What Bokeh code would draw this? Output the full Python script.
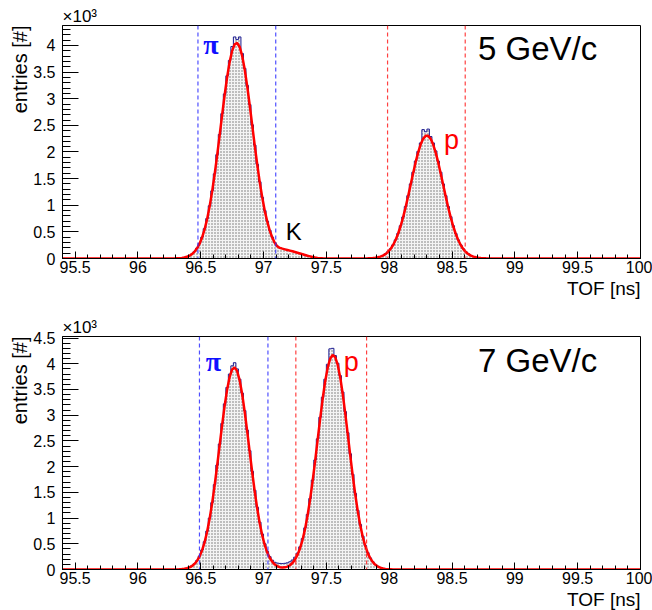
import numpy as np
from bokeh.plotting import figure
from bokeh.layouts import column
from bokeh.models import Range1d, FixedTicker, CustomJSTickFormatter, Span, Label, Title
from bokeh.embed import file_html
from bokeh.resources import INLINE

# ---------------- data ----------------
TOF_MIN, TOF_MAX, BIN_W = 95.4, 100.0, 0.02

x_major = [95.5, 96.0, 96.5, 97.0, 97.5, 98.0, 98.5, 99.0, 99.5, 100.0]
y_major = [0.0, 0.5, 1.0, 1.5, 2.0, 2.5, 3.0, 3.5, 4.0, 4.5]

# 5 GeV/c panel : pion (+K tail) segment, first bin at 96.30
top_pi_start = 96.30
top_pi_hist = [5, 8, 12, 21, 35, 55, 85, 130, 195, 285,
               400, 560, 750, 990, 1270, 1590, 1950, 2330, 2720, 3090,
               3430, 3720, 3980, 4160, 4110, 4160, 3850, 3570, 3250, 2890,
               2510, 2130, 1770, 1440, 1150, 900, 700, 530, 400, 300,
               235, 205, 188, 175, 162, 150, 137, 124, 110, 96,
               82, 68, 54, 41, 29, 19, 12, 7, 4, 2,
               1]
top_pi_fit = [4, 7, 11, 19, 32, 52, 81, 125, 187, 273,
              389, 540, 730, 966, 1246, 1567, 1923, 2302, 2688, 3061,
              3403, 3687, 3899, 4022, 4047, 3972, 3804, 3552, 3237, 2878,
              2500, 2120, 1760, 1430, 1140, 890, 690, 520, 390, 290,
              225, 200, 185, 172, 160, 148, 135, 122, 108, 94,
              80, 66, 52, 40, 28, 18, 11, 6, 3, 1,
              0]
# 5 GeV/c panel : proton segment, first bin at 97.80
top_p_start = 97.80
top_p_hist = [2, 3, 5, 9, 15, 24, 38, 58, 88, 128,
              182, 255, 350, 470, 615, 780, 975, 1180, 1400, 1620,
              1830, 2010, 2170, 2420, 2380, 2430, 2290, 2170, 2020, 1830,
              1620, 1400, 1180, 975, 785, 615, 470, 350, 255, 182,
              128, 88, 58, 38, 24, 15, 9, 6, 4, 2,
              1]
top_p_fit = [2, 3, 5, 8, 14, 22, 35, 55, 83, 123,
             177, 249, 343, 460, 601, 767, 956, 1162, 1379, 1597,
             1804, 1989, 2140, 2247, 2303, 2303, 2247, 2140, 1989, 1804,
             1597, 1379, 1162, 956, 767, 601, 460, 343, 249, 177,
             123, 83, 55, 35, 22, 14, 8, 5, 3, 2,
             1]
# 7 GeV/c panel : pion + proton segment, first bin at 96.30
bot_start = 96.30
bot_hist = [3, 5, 9, 16, 27, 44, 72, 112, 174, 260,
            380, 540, 745, 1000, 1300, 1650, 2030, 2440, 2840, 3220,
            3540, 3800, 3960, 4020, 3900, 3700, 3430, 3090, 2710, 2310,
            1910, 1540, 1210, 920, 690, 500, 355, 250, 180, 140,
            125, 118, 115, 120, 130, 150, 185, 240, 320, 440,
            600, 810, 1070, 1380, 1740, 2130, 2540, 2960, 3350, 3700,
            3990, 4290, 4300, 4160, 4010, 3770, 3450, 3070, 2660, 2250,
            1850, 1480, 1150, 875, 648, 467, 328, 225, 150, 98,
            62, 38, 23, 13, 8, 4]
bot_fit = [2, 4, 8, 14, 24, 41, 67, 106, 166, 250,
           367, 523, 725, 975, 1276, 1622, 2003, 2404, 2803, 3176,
           3497, 3741, 3889, 3930, 3856, 3678, 3408, 3069, 2685, 2283,
           1886, 1514, 1181, 895, 659, 472, 328, 223, 147, 96,
           63, 45, 38, 42, 56, 83, 127, 192, 283, 409,
           573, 785, 1045, 1354, 1708, 2097, 2509, 2920, 3309, 3650,
           3919, 4097, 4170, 4130, 3983, 3739, 3417, 3040, 2633, 2220,
           1822, 1456, 1132, 857, 632, 454, 317, 216, 143, 92,
           58, 35, 21, 12, 7, 4]

# selection windows (ns)
top_pi_cuts = [96.478, 97.097]
top_p_cuts = [97.987, 98.605]
bot_pi_cuts = [96.49, 97.035]
bot_p_cuts = [97.257, 97.82]

top_ymax = 4.375   # in units of 10^3
bot_ymax = 4.53

# ---------------- helpers ----------------
n_bins = int(round((TOF_MAX - TOF_MIN) / BIN_W))
edges = TOF_MIN + BIN_W * np.arange(n_bins + 1)
centers = edges[:-1] + BIN_W / 2


def place(segments):
    arr = np.zeros(n_bins)
    for start, vals in segments:
        i0 = int(round((start - TOF_MIN) / BIN_W))
        arr[i0:i0 + len(vals)] = vals
    return arr


FONT = "Liberation Sans"
fmt = CustomJSTickFormatter(code="return String(Math.round(tick*1000)/1000);")


def make_panel(hist, fit, ymax, pi_cuts, p_cuts, height, btop, bbottom, mom_text,
               pi_pos, p_pos, mom_pos, k_pos=None):
    p = figure(width=652, height=height,
               x_range=Range1d(TOF_MIN, TOF_MAX), y_range=Range1d(0, ymax),
               output_backend="svg", toolbar_location=None,
               min_border_left=62, min_border_right=12,
               min_border_top=btop, min_border_bottom=bbottom)
    p.grid.visible = False
    p.outline_line_color = "black"
    p.outline_line_width = 1
    p.outline_line_alpha = 1
    p.background_fill_color = "white"
    p.border_fill_color = "white"

    h = hist / 1000.0
    # histogram body as a single stepped polygon with a dotted fill
    sx = np.concatenate([np.repeat(edges, 2)[1:-1], [TOF_MAX, TOF_MIN]])
    sy = np.concatenate([np.repeat(h, 2), [0.0, 0.0]])
    p.patch(x=sx, y=sy, fill_color="#f4f4f4", line_color=None,
            hatch_pattern="dot", hatch_scale=3, hatch_color="#000000",
            hatch_weight=1, hatch_alpha=0.55)
    p.step(x=edges, y=np.append(h, h[-1]), mode="after",
           line_color="#1a1a90", line_width=1)

    fx = np.concatenate([[TOF_MIN], centers, [TOF_MAX]])
    fy = np.concatenate([[0.0], fit / 1000.0, [0.0]])
    p.line(x=fx, y=fy, line_color="#ff0000", line_width=2.5)

    for c in pi_cuts:
        p.add_layout(Span(location=c, dimension="height", line_color="#3030ff",
                          line_alpha=0.85, line_dash="4 3", line_width=1.2))
    for c in p_cuts:
        p.add_layout(Span(location=c, dimension="height", line_color="#ff2020",
                          line_alpha=0.85, line_dash="4 3", line_width=1.2))

    # axes
    xa = p.xaxis[0]
    xa.ticker = FixedTicker(ticks=x_major,
                            minor_ticks=list(np.round(np.arange(95.4, 100.0001, 0.1), 2)))
    xa.formatter = fmt
    xa.major_tick_in = 7
    xa.major_tick_out = 0
    xa.minor_tick_in = 4
    xa.minor_tick_out = 0
    xa.major_label_standoff = 2
    ya = p.yaxis[0]
    ya.ticker = FixedTicker(ticks=y_major,
                            minor_ticks=list(np.round(np.arange(0, 4.5001, 0.1), 2)))
    ya.formatter = fmt
    ya.major_tick_in = 16
    ya.major_tick_out = 0
    ya.minor_tick_in = 8
    ya.minor_tick_out = 0
    ya.major_label_standoff = 7
    for ax in (xa, ya):
        ax.axis_line_color = "black"
        ax.major_tick_line_color = "black"
        ax.minor_tick_line_color = "black"
        ax.major_label_text_font = FONT
        ax.major_label_text_font_size = "16px"
        ax.major_label_text_color = "black"

    # axis titles and exponent as side titles
    p.add_layout(Title(text="×10³", align="left", text_font=FONT, text_font_size="17px",
                       text_font_style="normal", text_color="black", standoff=0, offset=0),
                 "above")
    p.add_layout(Title(text="TOF [ns]", align="right", text_font=FONT, text_font_size="19px",
                       text_font_style="normal", text_color="black", standoff=0, offset=0),
                 "below")
    p.add_layout(Title(text="entries [#]", align="right", text_font=FONT, text_font_size="20px",
                       text_font_style="normal", text_color="black", standoff=0, offset=0),
                 "left")

    # annotations inside the frame
    p.add_layout(Label(x=pi_pos[0], y=pi_pos[1], text="π", text_baseline="alphabetic",
                       text_font="Liberation Serif", text_font_style="bold",
                       text_font_size="28px", text_color="#1010ff"))
    p.add_layout(Label(x=p_pos[0], y=p_pos[1], text="p", text_baseline="alphabetic",
                       text_font=FONT, text_font_size="27px", text_color="#ff0000"))
    p.add_layout(Label(x=mom_pos[0], y=mom_pos[1], text=mom_text, text_baseline="alphabetic",
                       text_font=FONT, text_font_size="33px", text_color="black"))
    if k_pos is not None:
        p.add_layout(Label(x=k_pos[0], y=k_pos[1], text="K", text_baseline="alphabetic",
                           text_font=FONT, text_font_size="24px", text_color="black"))
    return p


top_hist = place([(top_pi_start, top_pi_hist), (top_p_start, top_p_hist)])
top_fit = place([(top_pi_start, top_pi_fit), (top_p_start, top_p_fit)])
b_hist = place([(bot_start, bot_hist)])
b_fit = place([(bot_start, bot_fit)])

p1 = make_panel(top_hist, top_fit, top_ymax, top_pi_cuts, top_p_cuts, 304, 25, 46,
                "5 GeV/c", (96.52, 4.02), (98.436, 2.23), (98.707, 3.95), k_pos=(97.177, 0.51))
p2 = make_panel(b_hist, b_fit, bot_ymax, bot_pi_cuts, bot_p_cuts, 306, 32, 41,
                "7 GeV/c", (96.54, 4.05), (97.639, 4.04), (98.707, 4.07))

layout = column(p1, p2, spacing=0)
open("out.html", "w").write(file_html(layout, INLINE))
